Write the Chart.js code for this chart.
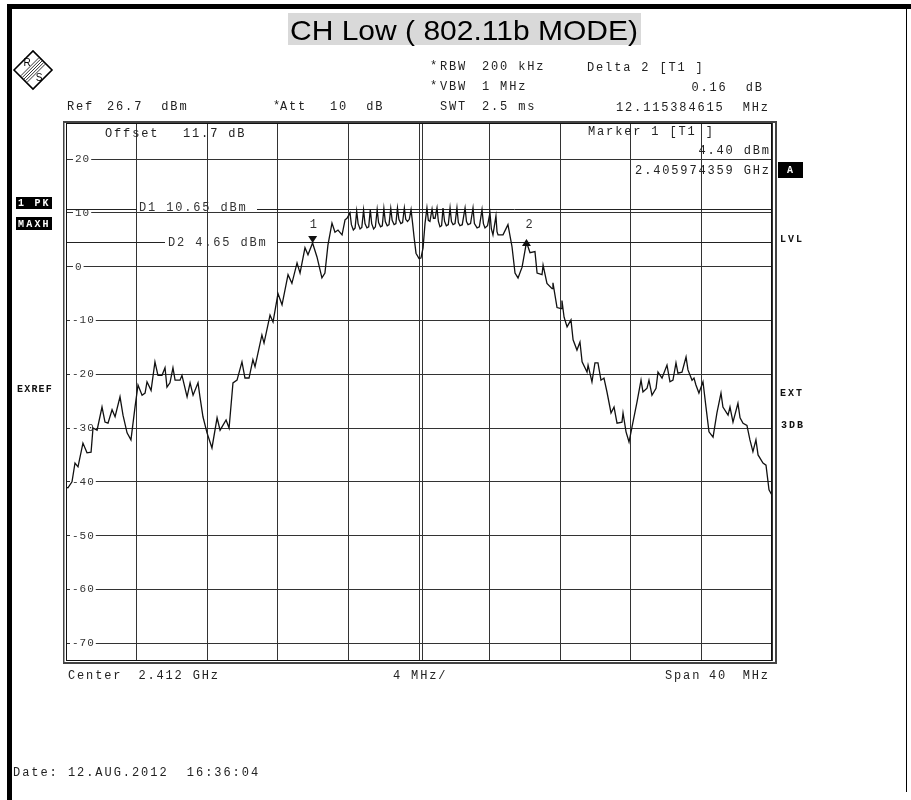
<!DOCTYPE html>
<html><head><meta charset="utf-8">
<script src="https://cdn.jsdelivr.net/npm/chart.js@4.4.0/dist/chart.umd.min.js"></script>
<style>html,body{margin:0;padding:0;background:#fff;overflow:hidden}canvas{display:block}</style>
</head><body><canvas id="c" width="911" height="800"></canvas>
<script>
// ---- data (frequency offset from 2.412 GHz centre, in MHz; level in dBm) ----
const freqOffsetMHz = [
-20.00,-19.89,-19.66,-19.49,-19.32,-19.04,-18.81,-18.58,-18.47,-18.24,-17.96,-17.79,-17.62,-17.39,-17.22,-16.94,-16.77,-16.54,-16.32,-16.09,
-15.92,-15.69,-15.52,-15.41,-15.18,-14.96,-14.79,-14.56,-14.39,-14.28,-14.11,-13.94,-13.82,-13.54,-13.43,-13.14,-12.97,-12.80,-12.52,-12.41,
-12.24,-12.01,-11.73,-11.44,-11.27,-10.93,-10.76,-10.54,-10.31,-10.03,-9.86,-9.63,-9.41,-9.29,-8.90,-8.78,-8.44,-8.27,-7.99,-7.76,
-7.42,-7.20,-6.91,-6.74,-6.46,-6.29,-6.03,-5.78,-5.50,-5.33,-5.16,-4.93,-4.76,-4.59,-4.36,-4.19,-4.08,
-3.91,-3.83,-3.72,-3.62,-3.53,-3.45,-3.34,-3.24,-3.14,-3.06,-2.95,-2.85,-2.76,-2.68,-2.57,-2.47,-2.37,-2.29,-2.18,-2.08,
-1.99,-1.91,-1.80,-1.70,-1.60,-1.52,-1.41,-1.31,-1.22,-1.14,-1.03,-0.93,-0.83,-0.75,-0.65,-0.55,-0.45,-0.36,-0.28,-0.17,
0.00,0.11,0.23,0.34,0.45,0.53,0.62,0.74,0.82,0.91,1.02,1.10,1.19,1.28,1.36,1.45,1.55,1.66,1.76,1.84,1.93,2.04,2.15,2.23,2.32,2.45,
2.61,2.69,2.78,2.92,3.06,3.14,3.29,3.42,3.57,3.65,3.74,3.88,4.02,4.10,4.19,4.36,4.42,4.48,4.76,
5.04,5.27,5.44,5.61,5.84,6.09,6.29,6.57,6.69,6.97,7.03,7.25,7.54,7.59,7.82,8.05,8.10,8.22,8.39,8.61,8.73,8.95,9.12,9.24,9.52,9.58,9.80,
9.97,10.14,10.31,10.48,10.65,10.88,11.05,11.22,11.50,11.56,11.73,11.90,12.07,12.35,12.58,12.69,12.92,13.03,13.20,13.43,13.54,13.77,
14.05,14.22,14.39,14.56,14.67,14.90,15.13,15.24,15.47,15.58,15.69,15.86,16.09,16.26,16.43,16.66,16.88,17.11,17.22,17.51,17.62,17.79,
18.07,18.19,18.36,18.58,18.75,18.92,19.09,19.21,19.49,19.66,19.83,20.00];
const levelDbm = [
-41.0,-41.1,-40.0,-36.5,-37.2,-32.8,-34.6,-34.5,-30.0,-30.4,-26.1,-28.9,-29.1,-26.6,-27.9,-24.2,-27.6,-30.9,-32.2,-26.1,
-22.0,-23.9,-23.5,-21.4,-23.0,-17.7,-20.2,-20.2,-18.8,-22.4,-21.6,-18.8,-21.1,-21.1,-20.2,-24.2,-21.6,-23.9,-21.6,-24.2,
-27.9,-30.9,-33.7,-28.1,-30.4,-28.5,-30.0,-21.6,-21.1,-17.7,-20.7,-20.7,-17.3,-18.6,-12.7,-14.2,-9.0,-10.3,-5.0,-7.1,
-1.5,-3.1,0.7,-1.2,3.5,2.2,4.4,1.8,-2.1,-1.2,4.0,8.1,6.4,6.8,5.9,8.7,9.0,
10.0,7.8,6.8,7.2,10.3,8.0,7.0,7.3,10.5,8.0,7.2,7.4,10.6,8.0,7.0,7.4,10.6,8.2,7.4,7.6,
10.8,8.4,7.6,7.8,10.8,8.6,7.8,8.0,10.9,8.8,8.0,8.2,10.9,8.8,8.4,8.8,10.6,8.0,5.5,2.5,
1.5,1.6,3.5,8.0,10.9,8.6,8.4,10.7,9.0,9.0,10.9,8.4,7.4,7.6,10.9,8.4,7.6,7.8,10.9,8.4,7.8,8.0,10.9,8.2,7.6,7.8,
10.9,8.4,7.8,8.0,10.9,8.0,7.2,7.4,10.6,8.0,7.2,7.6,10.0,7.0,5.9,9.4,6.5,5.9,5.9,
7.8,3.7,-1.2,-2.1,-0.1,4.56,2.6,2.8,-1.2,-1.5,0.3,-3.1,-4.1,-3.0,-7.6,-7.8,-6.3,-9.4,-11.2,-9.9,-13.6,-15.5,-14.0,-17.7,-19.6,-18.3,-21.4,
-17.9,-17.9,-21.1,-20.7,-23.3,-27.2,-26.1,-29.1,-28.9,-27.2,-30.7,-32.6,-29.8,-25.2,-21.1,-23.3,-22.6,-21.1,-23.9,-22.6,-19.6,-20.7,
-18.3,-21.4,-21.1,-17.9,-19.8,-19.6,-16.8,-19.2,-21.1,-20.7,-22.0,-23.5,-21.4,-26.1,-30.7,-31.7,-27.2,-23.5,-26.1,-27.6,-26.1,-28.9,
-25.4,-28.1,-29.1,-29.5,-32.2,-34.4,-32.2,-35.0,-36.5,-36.9,-41.5,-42.5];
const xTicksMHz = [-20,-16,-12,-8,-4,0,4,8,12,16,20];
const yTicksDbm = [20,10,0,-10,-20,-30,-40,-50,-60,-70];
const refLevel = 26.7, rangeDb = 100;
const dLineNames = ['D1','D2'];
const dLineValues = [10.65, 4.65];
const markerNames = ['1','2'];
const markerFreqs = [-6.026, 6.089];
const markerLevels = [4.40, 4.56];

const ADV = 9.05;
function mono(ctx, s, x, y, o) {
  o = o || {};
  const adv = o.adv || ADV, gw = o.gw || 7.2;
  ctx.font = o.font || '12px "Liberation Mono"';
  ctx.fillStyle = o.color || '#222';
  ctx.textBaseline = 'middle'; ctx.textAlign = 'left';
  const sx = o.align === 'right' ? x - gw - (s.length - 1) * adv : x;
  for (let i = 0; i < s.length; i++) if (s[i] !== ' ') ctx.fillText(s[i], sx + i * adv, y);
  return sx + (s.length - 1) * adv + gw;
}
function hline(ctx, x1, x2, y) { ctx.beginPath(); ctx.moveTo(x1, y); ctx.lineTo(x2, y); ctx.stroke(); }
function vline(ctx, x, y1, y2) { ctx.beginPath(); ctx.moveTo(x, y1); ctx.lineTo(x, y2); ctx.stroke(); }

const annot = {
  id: 'annot',
  beforeDraw(chart) {
    const c = chart.ctx; c.save(); c.fillStyle = '#fff'; c.fillRect(0, 0, chart.width, chart.height); c.restore();
  },
  beforeDatasetsDraw(chart) {
    const ctx = chart.ctx, x = chart.scales.x, y = chart.scales.y, a = chart.chartArea;
    ctx.save();
    ctx.strokeStyle = '#333'; ctx.lineWidth = 1;
    const cx = Math.round(x.getPixelForValue(0)) + 3.5;
    vline(ctx, cx, a.top, a.bottom);
    yTicksDbm.forEach(v => {
      const py = Math.round(y.getPixelForValue(v));
      const s = String(v);
      const x0 = v < 0 ? 72 : 75;
      const w = (s.length - 1) * 7.6 + 6.6;
      ctx.fillStyle = '#fff'; ctx.fillRect(x0 - 2, py - 3, w + 4, 6);
      mono(ctx, s, x0, py, { font: '11px "Liberation Mono"', adv: 7.6, gw: 6.6, color: '#333' });
    });
    ctx.strokeStyle = '#222';
    const dLab = [{ x1: 137, tx: 139, x2: 257, ty: -2 }, { x1: 165, tx: 168, x2: 277, ty: 0 }];
    dLineValues.forEach((v, i) => {
      const py = Math.round(y.getPixelForValue(v)) + 0.5;
      hline(ctx, a.left, dLab[i].x1, py);
      hline(ctx, dLab[i].x2, a.right, py);
      mono(ctx, dLineNames[i] + ' ' + v.toFixed(2) + ' dBm', dLab[i].tx, py + dLab[i].ty, { color: '#333' });
    });
    ctx.restore();
  },
  afterDatasetsDraw(chart) {
    const ctx = chart.ctx, x = chart.scales.x, y = chart.scales.y, a = chart.chartArea;
    ctx.save();
    markerFreqs.forEach((f, i) => {
      const px = x.getPixelForValue(f), py = y.getPixelForValue(markerLevels[i]);
      ctx.fillStyle = '#111'; ctx.beginPath();
      if (i === 0) { ctx.moveTo(px, py); ctx.lineTo(px - 4.5, py - 7); ctx.lineTo(px + 4.5, py - 7); }
      else { ctx.moveTo(px, py - 3); ctx.lineTo(px - 4.5, py + 4); ctx.lineTo(px + 4.5, py + 4); }
      ctx.closePath(); ctx.fill();
      mono(ctx, markerNames[i], px - 3 + (i ? 2 : 0), 225, { color: '#333' });
    });
    ctx.fillStyle = '#444';
    ctx.fillRect(63, 121, 714, 2);
    ctx.fillRect(63, 121, 1.5, 543);
    ctx.fillRect(775, 121, 2, 543);
    ctx.fillRect(63, 662, 714, 2);
    ctx.fillStyle = '#111';
    ctx.fillRect(a.left, a.top, a.right - a.left, 1);
    ctx.fillRect(a.left, a.bottom - 1, a.right - a.left, 1);
    ctx.fillRect(a.left, a.top, 1, a.bottom - a.top);
    ctx.fillRect(a.right - 1, a.top, 1, a.bottom - a.top);

    mono(ctx, 'Offset', 105, 134);
    mono(ctx, '11.7 dB', 183, 134);
    mono(ctx, 'Marker 1 [T1 ]', 588, 132);
    mono(ctx, markerLevels[0].toFixed(2) + ' dBm', 769, 151, { align: 'right' });
    mono(ctx, '2.405974359 GHz', 769, 171, { align: 'right' });

    mono(ctx, '*', 430, 66); mono(ctx, 'RBW', 440, 67); mono(ctx, '200 kHz', 482, 67);
    mono(ctx, 'Delta 2 [T1 ]', 587, 68);
    mono(ctx, '*', 430, 86); mono(ctx, 'VBW', 440, 87); mono(ctx, '1 MHz', 482, 87);
    mono(ctx, '0.16  dB', 762, 88, { align: 'right' });
    mono(ctx, 'Ref', 67, 107); mono(ctx, '26.7  dBm', 107, 107);
    mono(ctx, '*', 273, 106); mono(ctx, 'Att', 280, 107); mono(ctx, '10  dB', 330, 107);
    mono(ctx, 'SWT', 440, 107); mono(ctx, '2.5 ms', 482, 107);
    mono(ctx, '12.115384615  MHz', 768, 108, { align: 'right' });

    mono(ctx, 'Center', 68, 676); mono(ctx, '2.412 GHz', 218, 676, { align: 'right' });
    mono(ctx, '4 MHz/', 393, 676);
    mono(ctx, 'Span', 665, 676); mono(ctx, '40', 709, 676); mono(ctx, 'MHz', 768, 676, { align: 'right' });
    mono(ctx, 'Date: 12.AUG.2012  16:36:04', 13, 773, { adv: 9.15 });

    const bold = 'bold 10px "Liberation Mono"';
    ctx.fillStyle = '#000'; ctx.fillRect(16, 197, 36, 12); ctx.fillRect(16, 217, 36, 13);
    mono(ctx, '1 PK', 18, 203, { font: bold, color: '#fff', adv: 8.2, gw: 6 });
    mono(ctx, 'MAXH', 18, 224, { font: bold, color: '#fff', adv: 8.2, gw: 6 });
    mono(ctx, 'EXREF', 17, 389, { font: bold, color: '#111', adv: 7.2, gw: 6 });
    ctx.fillStyle = '#000'; ctx.fillRect(778, 162, 25, 16);
    mono(ctx, 'A', 787, 170, { font: bold, color: '#fff' });
    mono(ctx, 'LVL', 780, 239, { font: bold, color: '#111', adv: 8, gw: 6 });
    mono(ctx, 'EXT', 780, 393, { font: bold, color: '#111', adv: 8, gw: 6 });
    mono(ctx, '3DB', 781, 425, { font: bold, color: '#111', adv: 8, gw: 6 });

    ctx.fillStyle = '#d9d9d9'; ctx.fillRect(288, 13, 353, 32);
    ctx.font = '28px "Liberation Sans"'; ctx.fillStyle = '#000';
    ctx.textBaseline = 'alphabetic'; ctx.textAlign = 'left';
    const title = 'CH Low ( 802.11b MODE)';
    const tw = ctx.measureText(title).width;
    ctx.save(); ctx.translate(290, 40); ctx.scale(348 / tw, 1); ctx.fillText(title, 0, 0); ctx.restore();

    const lx = 33, ly = 70, r = 19;
    ctx.strokeStyle = '#000'; ctx.lineWidth = 1.6;
    ctx.beginPath(); ctx.moveTo(lx - r, ly); ctx.lineTo(lx, ly - r); ctx.lineTo(lx + r, ly); ctx.lineTo(lx, ly + r); ctx.closePath(); ctx.stroke();
    ctx.lineWidth = 0.8;
    for (let k = -2; k <= 2; k++) {
      const o = k * 1.6;
      ctx.beginPath(); ctx.moveTo(lx - 9 + o, ly + 9 + o); ctx.lineTo(lx + 9 + o, ly - 9 + o); ctx.stroke();
    }
    ctx.font = '10px "Liberation Sans"'; ctx.fillStyle = '#000'; ctx.textBaseline = 'middle'; ctx.textAlign = 'center';
    ctx.fillText('R', lx - 6, ly - 7); ctx.fillText('S', lx + 6, ly + 8);

    ctx.fillStyle = '#000';
    ctx.fillRect(7, 4, 904, 5);
    ctx.fillRect(7, 4, 5, 796);
    ctx.fillRect(906, 9, 1, 783);
    ctx.restore();
  }
};

new Chart(document.getElementById('c'), {
  type: 'line',
  data: {
    datasets: [{
      data: freqOffsetMHz.map((f, i) => ({ x: f, y: levelDbm[i] })),
      borderColor: '#111', borderWidth: 1.3, pointRadius: 0, tension: 0, fill: false
    }]
  },
  options: {
    responsive: false, animation: false, devicePixelRatio: 1,
    layout: { padding: { left: 66, right: 139, top: 123, bottom: 139 } },
    plugins: { legend: { display: false }, tooltip: { enabled: false } },
    scales: {
      x: {
        type: 'linear', min: -20, max: 20,
        afterBuildTicks: s => { s.ticks = xTicksMHz.map(v => ({ value: v })); },
        ticks: { display: false }, border: { display: false },
        grid: { color: '#333', lineWidth: 1, drawTicks: false }
      },
      y: {
        type: 'linear', min: refLevel - rangeDb, max: refLevel,
        afterBuildTicks: s => { s.ticks = yTicksDbm.map(v => ({ value: v })); },
        ticks: { display: false }, border: { display: false },
        grid: { color: '#333', lineWidth: 1, drawTicks: false }
      }
    }
  },
  plugins: [annot]
});
</script>
</body></html>
